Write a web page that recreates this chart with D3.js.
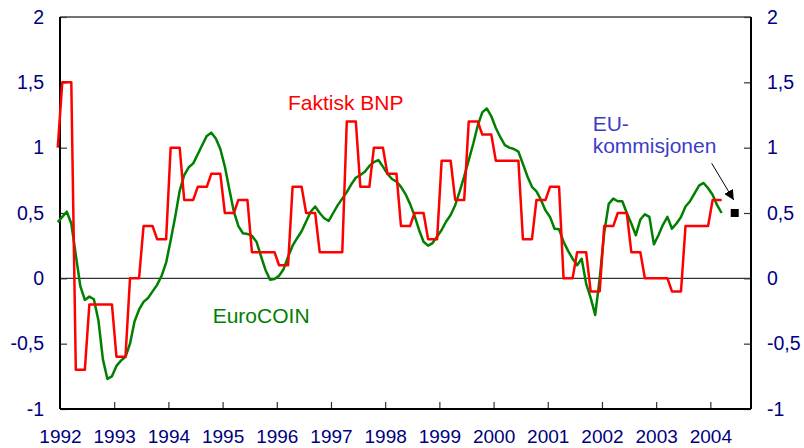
<!DOCTYPE html>
<html lang="no">
<head>
<meta charset="UTF-8">
<script src="https://d3js.org/d3.v7.min.js"></script>
<title>EuroCOIN og faktisk BNP</title>
<style>
    body { margin: 0; background: #fff; }
    svg { display: block; font-family: "Liberation Sans", Arial, sans-serif; }
    .tick text { fill: #000080; font-size: 19.5px; }
    .tick line { stroke: #333; stroke-width: 1.2px; }
</style>
</head>
<body>
<div id="chart"></div>
<script>
    // ---- data ----
    // Faktisk BNP: quarterly growth (%), shown as monthly steps; one lead value for Dec 1991
    const bnpDec1991 = 1.0;
    const bnpStartYear = 1992;
    const bnpQuarterly = [
        1.5, -0.7, -0.2, -0.2,   // 1992
        -0.6, 0.0, 0.4, 0.3,     // 1993
        1.0, 0.6, 0.7, 0.8,      // 1994
        0.5, 0.6, 0.2, 0.2,      // 1995
        0.1, 0.7, 0.5, 0.2,      // 1996
        0.2, 1.2, 0.7, 1.0,      // 1997
        0.8, 0.4, 0.5, 0.3,      // 1998
        0.9, 0.6, 1.2, 1.1,      // 1999
        0.9, 0.9, 0.3, 0.6,      // 2000
        0.7, 0.0, 0.2, -0.1,     // 2001
        0.4, 0.5, 0.2, 0.0,      // 2002
        0.0, -0.1, 0.4, 0.4,     // 2003
        0.6                      // 2004
    ];

    // EuroCOIN: monthly, starting Dec 1991
    const coinStart = { year: 1991, month: 11 };
    const euroCoin = [
        0.43,
        0.47, 0.51, 0.42, 0.18, -0.06, -0.165, -0.14, -0.16, -0.32, -0.62, -0.77, -0.75,   // 1992
        -0.67, -0.63, -0.60, -0.50, -0.33, -0.24, -0.18, -0.15, -0.10, -0.05, 0.02, 0.12,  // 1993
        0.29, 0.47, 0.67, 0.79, 0.85, 0.88, 0.95, 1.02, 1.09, 1.115, 1.07, 0.99,           // 1994
        0.855, 0.68, 0.51, 0.40, 0.345, 0.34, 0.325, 0.28, 0.17, 0.064, -0.01, -0.006,     // 1995
        0.02, 0.07, 0.166, 0.25, 0.307, 0.36, 0.435, 0.51, 0.55, 0.50, 0.46, 0.44,         // 1996
        0.50, 0.56, 0.61, 0.66, 0.72, 0.77, 0.79, 0.815, 0.86, 0.89, 0.905, 0.855,         // 1997
        0.80, 0.76, 0.74, 0.70, 0.645, 0.57, 0.48, 0.37, 0.28, 0.25, 0.27, 0.32,           // 1998
        0.37, 0.435, 0.485, 0.56, 0.665, 0.78, 0.905, 1.03, 1.17, 1.27, 1.30, 1.24,        // 1999
        1.15, 1.08, 1.02, 1.00, 0.99, 0.97, 0.875, 0.78, 0.70, 0.665, 0.60, 0.52,          // 2000
        0.47, 0.38, 0.375, 0.28, 0.21, 0.15, 0.10, 0.15, -0.04, -0.15, -0.28, 0.0,         // 2001
        0.35, 0.57, 0.61, 0.59, 0.59, 0.50, 0.42, 0.33, 0.45, 0.49, 0.47, 0.26,            // 2002
        0.33, 0.41, 0.47, 0.38, 0.42, 0.47, 0.55, 0.59, 0.65, 0.71, 0.73, 0.69,            // 2003
        0.64, 0.56, 0.50                                                                   // 2004
    ];

    // EU-kommisjonen forecast point
    const euForecast = { time: 2004.45, value: 0.5 };

    const yearTicks = d3.range(1992, 2005);
    const valueTicks = [-1, -0.5, 0, 0.5, 1, 1.5, 2];

    // ---- layout ----
    const width = 804, height = 448;
    const margin = { top: 17, right: 53, bottom: 39, left: 60 };
    const innerW = width - margin.left - margin.right;
    const innerH = height - margin.top - margin.bottom;

    const svg = d3.select("#chart").append("svg")
        .attr("width", width)
        .attr("height", height);

    const g = svg.append("g").attr("transform", `translate(${margin.left},${margin.top})`);

    const x = d3.scaleLinear().domain([1992, 2004.75]).range([0, innerW]);
    const y = d3.scaleLinear().domain([-1, 2]).range([innerH, 0]);

    const fmt = d => String(d).replace(".", ",");

    // monthly series
    const bnpSeries = [{ t: 1991 + 11.5 / 12, v: bnpDec1991 }];
    bnpQuarterly.forEach((v, q) => {
        for (let k = 0; k < 3; k++) {
            const m = q * 3 + k;
            bnpSeries.push({ t: bnpStartYear + (m + 0.5) / 12, v: v });
        }
    });
    const coinSeries = euroCoin.map((v, i) => ({
        t: coinStart.year + (coinStart.month + i + 0.5) / 12,
        v: v
    }));

    // axes
    const xAxis = g.append("g")
        .attr("transform", `translate(0,${innerH})`)
        .call(d3.axisBottom(x).tickValues(yearTicks).tickFormat(d3.format("d"))
            .tickSize(-7).tickPadding(21));
    xAxis.select(".domain").remove();
    xAxis.selectAll(".tick line").filter(d => d === 1992).remove();
    xAxis.selectAll(".tick text").style("font-size", "19px");

    const yLeft = g.append("g")
        .call(d3.axisLeft(y).tickValues(valueTicks).tickFormat(fmt)
            .tickSize(-7).tickPadding(16));
    yLeft.select(".domain").remove();

    const yRight = g.append("g")
        .attr("transform", `translate(${innerW},0)`)
        .call(d3.axisRight(y).tickValues(valueTicks).tickFormat(fmt)
            .tickSize(-7).tickPadding(16));
    yRight.select(".domain").remove();

    // zero line
    g.append("line")
        .attr("x1", 0).attr("x2", innerW)
        .attr("y1", y(0)).attr("y2", y(0))
        .attr("stroke", "#333").attr("stroke-width", 1.2);

    // frame
    g.append("line").attr("x1", 0).attr("x2", innerW).attr("y1", 0).attr("y2", 0)
        .attr("stroke", "#444").attr("stroke-width", 1.5);
    g.append("line").attr("x1", 0).attr("x2", 0).attr("y1", 0).attr("y2", innerH)
        .attr("stroke", "#000").attr("stroke-width", 2);
    g.append("line").attr("x1", innerW).attr("x2", innerW).attr("y1", 0).attr("y2", innerH)
        .attr("stroke", "#000").attr("stroke-width", 2);
    g.append("line").attr("x1", 0).attr("x2", innerW).attr("y1", innerH).attr("y2", innerH)
        .attr("stroke", "#000").attr("stroke-width", 2);

    const line = d3.line().x(d => x(d.t)).y(d => y(d.v));

    g.append("path")
        .datum(coinSeries)
        .attr("fill", "none")
        .attr("stroke", "#008000")
        .attr("stroke-width", 2.5)
        .attr("stroke-linejoin", "round")
        .attr("d", line);

    g.append("path")
        .datum(bnpSeries)
        .attr("fill", "none")
        .attr("stroke", "#ff0000")
        .attr("stroke-width", 2.5)
        .attr("stroke-linejoin", "round")
        .attr("d", line);

    // forecast marker
    g.append("rect")
        .attr("x", x(euForecast.time) - 4)
        .attr("y", y(euForecast.value) - 4)
        .attr("width", 8).attr("height", 8)
        .attr("fill", "#000");

    // arrow to the marker
    svg.append("defs").append("marker")
        .attr("id", "arrow")
        .attr("viewBox", "0 0 10 10")
        .attr("refX", 10).attr("refY", 5)
        .attr("markerWidth", 10).attr("markerHeight", 10)
        .attr("markerUnits", "userSpaceOnUse")
        .attr("orient", "auto")
        .append("path").attr("d", "M0,0L10,5L0,10Z").attr("fill", "#000");

    g.append("line")
        .attr("x1", 651.7).attr("y1", 146.3)
        .attr("x2", x(euForecast.time) - 1).attr("y2", y(euForecast.value) - 13)
        .attr("stroke", "#000").attr("stroke-width", 1)
        .attr("marker-end", "url(#arrow)");

    // labels
    g.append("text")
        .attr("x", 228).attr("y", 93)
        .attr("fill", "#ff0000").attr("font-size", 21)
        .text("Faktisk BNP");

    g.append("text")
        .attr("x", 152.7).attr("y", 306.3)
        .attr("fill", "#008000").attr("font-size", 21)
        .text("EuroCOIN");

    const eu = g.append("text")
        .attr("fill", "#3c3cc8").attr("font-size", 21);
    eu.append("tspan").attr("x", 532.7).attr("y", 114).text("EU-");
    eu.append("tspan").attr("x", 532.7).attr("y", 136).text("kommisjonen");
</script>
</body>
</html>
